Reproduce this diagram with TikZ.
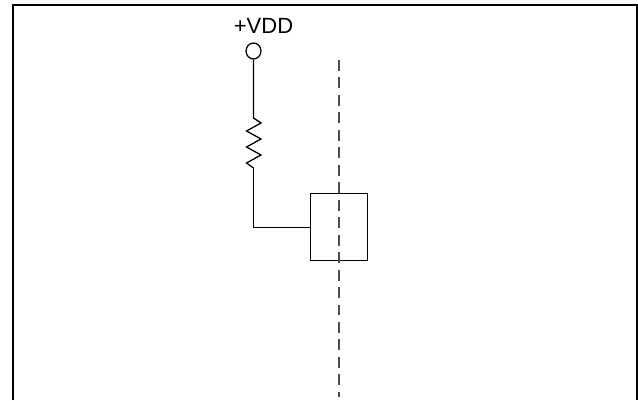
\documentclass[tikz,border=0pt]{standalone}
\usepackage{tikz}
\usepackage{fontspec}
\setmainfont{Liberation Sans}
\usetikzlibrary{shapes.geometric}
\tikzset{
	wire/.style={line width=0.95pt,color=black},
	frameline/.style={line width=1.6pt,color=black},
	axisline/.style={line width=1pt,color=black!70,dash pattern=on 8.2pt off 4.9pt},
	terminal/.style={draw,ellipse,line width=0.95pt,minimum width=11.2pt,minimum height=12pt,inner sep=0pt},
	housing/.style={draw,line width=0.95pt,minimum width=42.7pt,minimum height=50.2pt,inner sep=0pt},
}
\begin{document}
\begin{tikzpicture}[x=0.75pt,y=-0.75pt]
		\useasboundingbox (0,0) rectangle (638,400);
		% outer frame, open at the bottom
		\coordinate (framebl) at (13,400);
		\coordinate (frametl) at (13,5);
		\coordinate (frametr) at (637,5);
		\coordinate (framebr) at (637,400);
		\draw[frameline] (framebl) -- (frametl) -- (frametr) -- (framebr);
		% supply
		\node[font=\fontsize{16.5pt}{18pt}\selectfont] (vddlabel) at (263.5,25.5) {+VDD};
		\node[terminal] (vdd) at (253.5,51) {};
		% resistor
		\coordinate (rtop) at (253.5,118);
		\coordinate (rbot) at (253.5,168);
		\draw[wire] (vdd) -- (rtop) -- (261,123) -- (246.5,131) -- (261,139) -- (246.5,147) -- (261,155) -- (246.5,163) -- (rbot);
		% housing and centre line
		\node[housing] (box) at (339,227) {};
		\coordinate (axistop) at (339,60);
		\coordinate (axisbot) at (339,397);
		\draw[axisline] (axistop) -- (axisbot);
		\coordinate (corner) at (253.5,227.5);
		\draw[wire] (rbot) -- (corner) -- (box.west |- corner);
		\end{tikzpicture}
\end{document}
